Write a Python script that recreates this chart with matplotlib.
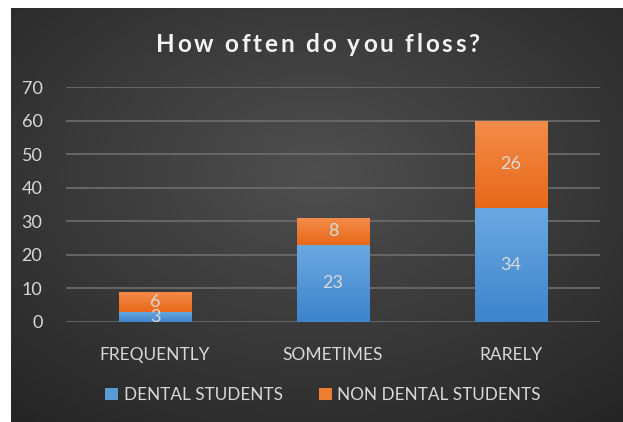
import numpy as np
import matplotlib
matplotlib.use("Agg")
import matplotlib.pyplot as plt
from matplotlib.font_manager import FontProperties

categories = ["FREQUENTLY", "SOMETIMES", "RARELY"]
dental = [3, 23, 34]
non_dental = [6, 8, 26]
series_names = ["DENTAL STUDENTS", "NON DENTAL STUDENTS"]
title = "How often do you floss?"

plt.rcParams['font.family'] = ['Lato', 'DejaVu Sans']
W, H = 623, 422
fig = plt.figure(figsize=(W / 100, H / 100), dpi=100, facecolor="white")

# background panel with radial gradient
bx0, by1 = 11 / W, (H - 8) / H
bg = fig.add_axes([bx0, 0, 1 - bx0, by1])
bg.set_axis_off()
yy, xx = np.mgrid[0:1:300j, 0:1:400j]
r = np.sqrt(((xx - 0.5) / 0.75) ** 2 + ((yy - 0.4) / 0.75) ** 2)
v = np.clip(0.31 - 0.16 * r, 0.14, 0.31)
img = np.dstack([v, v, v])
bg.imshow(img, extent=[0, 1, 0, 1], aspect="auto", origin="upper")
bg.set_xlim(0, 1); bg.set_ylim(0, 1)

ax = fig.add_axes([66 / W, (H - 322) / H, 534 / W, 235 / H])
ax.patch.set_alpha(0)
x = np.arange(len(categories))
width = 0.405

def grad_fill(bars, top, bottom):
    for b in bars:
        x0, y0 = b.get_x(), b.get_y()
        w, h = b.get_width(), b.get_height()
        g = np.linspace(0, 1, 64)[:, None]
        t = np.array(top); bt = np.array(bottom)
        col = (t[None, None, :] * (1 - g[..., None]) + bt[None, None, :] * g[..., None])
        col = np.repeat(col, 2, axis=1)
        im = ax.imshow(col, extent=[x0, x0 + w, y0, y0 + h], aspect="auto",
                       origin="upper", zorder=3)
        im.set_clip_path(b)

b1 = ax.bar(x, dental, width, color="#5B9BD5", zorder=2, label=series_names[0])
b2 = ax.bar(x, non_dental, width, bottom=dental, color="#ED7D31", zorder=2,
            label=series_names[1])
grad_fill(b1, (0.42, 0.66, 0.88), (0.24, 0.52, 0.80))
grad_fill(b2, (0.95, 0.55, 0.29), (0.91, 0.41, 0.10))

lab_col = "#d9d9d9"
for i in range(len(categories)):
    ax.text(x[i], dental[i] / 2, str(dental[i]), ha="center", va="center",
            color=lab_col, fontsize=13, zorder=5)
    ax.text(x[i], dental[i] + non_dental[i] / 2, str(non_dental[i]), ha="center",
            va="center", color=lab_col, fontsize=13, zorder=5)

ax.set_xlim(-0.5, 2.5)
ax.set_ylim(0, 70)
ax.set_yticks(range(0, 71, 10))
ax.grid(axis="y", color="#6e6e6e", linewidth=1.2, zorder=0)
ax.set_axisbelow(True)
for s in ax.spines.values():
    s.set_visible(False)
ax.tick_params(axis="y", length=0, colors=lab_col, labelsize=13, pad=17)
ax.tick_params(axis="x", length=0, colors=lab_col, labelsize=12.5, pad=18)
ax.set_xticks(x)
ax.set_xticklabels(categories)

# letter-spaced title
renderer = fig.canvas.get_renderer()
fp = FontProperties(family=['Lato', 'DejaVu Sans'], weight="bold", size=17.5)
def tw(s):
    if not s:
        return 0.0
    w, h, d = renderer.get_text_width_height_descent(s.replace(" ", "\u00a0"), fp, ismath=False)
    return w
natural = tw(title)
target_w = 324.0
spacing = (target_w - natural) / (len(title) - 1)
start = (W - target_w) / 2 + 6
for i, ch in enumerate(title):
    if ch == " ":
        continue
    px = start + tw(title[:i]) + spacing * i
    fig.text(px / W, (H - 51.7) / H, ch, ha="left", va="baseline",
             color="#f2f2f2", fontproperties=fp)

leg = fig.legend(handles=[b1, b2], labels=series_names, loc="center",
                 bbox_to_anchor=(323 / W, (H - 395) / H), ncol=2, frameon=False,
                 fontsize=12.3, labelcolor=lab_col, handlelength=0.75,
                 handleheight=0.75, handletextpad=0.35, columnspacing=2.1)

fig.savefig("out.png", dpi=100, facecolor="white")
